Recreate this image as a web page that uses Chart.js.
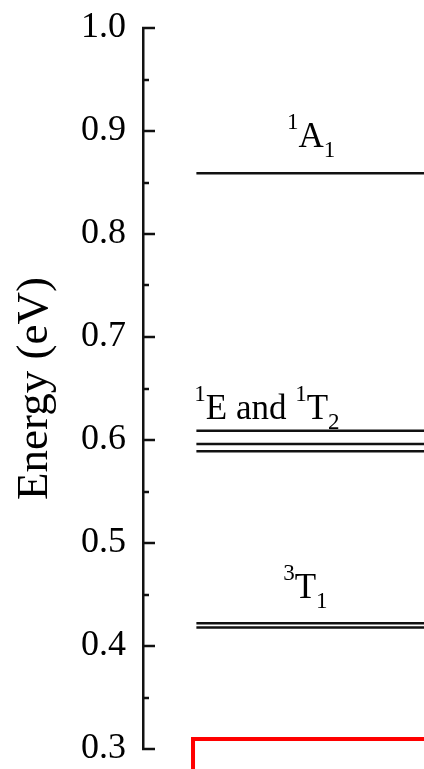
<!DOCTYPE html>
<html>
<head>
<meta charset="utf-8">
<script src="https://cdn.jsdelivr.net/npm/chart.js@4.4.1/dist/chart.umd.min.js"></script>
<style>
  html, body { margin: 0; padding: 0; background: #fff; }
  #wrap { width: 424px; height: 769px; position: relative; }
</style>
</head>
<body>
<div id="wrap"><canvas id="levelChart"></canvas></div>
<script>
// --- data ---
const levelEnergies = [0.859, 0.609, 0.596, 0.589, 0.422, 0.418];
const stateLabels = ['^1A_1', '^1E and ^1T_2', '^3T_1'];
const labelEnergies = [0.8845, 0.620, 0.4466];
const yMin = 0.3;
const yMax = 1.0;
const yStep = 0.05;

// x range of each level line (x axis is hidden, 0..1)
const levelStart = 0.19;
const levelEnd = 1.0;

Chart.defaults.font.family = "'Liberation Serif', 'Times New Roman', serif";
Chart.defaults.color = '#000';

const isMajor = v => Math.abs(v * 10 - Math.round(v * 10)) < 1e-6;

// ticks drawn on the inner side of the axis
const inwardTicks = {
  id: 'inwardTicks',
  afterDraw(chart) {
    const s = chart.scales.y;
    const ctx = chart.ctx;
    const x0 = chart.chartArea.left;
    ctx.save();
    ctx.strokeStyle = '#111';
    ctx.lineWidth = 2.5;
    s.ticks.forEach(t => {
      const py = Math.round(s.getPixelForValue(t.value));
      ctx.beginPath();
      ctx.moveTo(x0 - 1, py);
      ctx.lineTo(x0 + (isMajor(t.value) ? 12 : 6), py);
      ctx.stroke();
    });
    ctx.restore();
  }
};

// state labels with super/subscripts
function drawRich(ctx, str, cx, baseY, size, small) {
  const parts = [];
  for (let i = 0; i < str.length; i++) {
    const c = str[i];
    if ((c === '^' || c === '_') && i + 1 < str.length) {
      parts.push({ t: str[i + 1], k: c });
      i++;
    } else if (parts.length && parts[parts.length - 1].k === '') {
      parts[parts.length - 1].t += c;
    } else {
      parts.push({ t: c, k: '' });
    }
  }
  const fam = "'Liberation Serif', serif";
  let total = 0;
  parts.forEach(p => {
    ctx.font = (p.k ? small : size) + 'px ' + fam;
    p.w = ctx.measureText(p.t).width;
    total += p.w;
  });
  let x = cx - total / 2;
  parts.forEach(p => {
    ctx.font = (p.k ? small : size) + 'px ' + fam;
    let dy = 0;
    if (p.k === '^') dy = -18;
    if (p.k === '_') dy = 10;
    ctx.fillText(p.t, x, baseY + dy);
    x += p.w;
  });
}

const stateText = {
  id: 'stateText',
  afterDatasetsDraw(chart, args, opts) {
    const ctx = chart.ctx;
    const xs = chart.scales.x, ys = chart.scales.y;
    ctx.save();
    ctx.fillStyle = '#000';
    ctx.textBaseline = 'alphabetic';
    ctx.textAlign = 'left';
    stateLabels.forEach((lab, i) => {
      drawRich(ctx, lab, xs.getPixelForValue(opts.centers[i]), ys.getPixelForValue(labelEnergies[i]), 35, 23);
    });
    ctx.restore();
  }
};

// red frame at the bottom (runs past the picture edge)
const redFrame = {
  id: 'redFrame',
  afterDraw(chart, args, opts) {
    const ctx = chart.ctx;
    const x = chart.scales.x.getPixelForValue(opts.x);
    const y = chart.scales.y.getPixelForValue(opts.y);
    ctx.save();
    ctx.strokeStyle = '#ff0000';
    ctx.lineWidth = 4;
    ctx.strokeRect(x, y, 1000, 1000);
    ctx.restore();
  }
};

const datasets = levelEnergies.map(e => ({
  data: [{ x: levelStart, y: e }, { x: levelEnd, y: e }],
  borderColor: '#111',
  borderWidth: 2.5,
  pointRadius: 0,
  fill: false,
  clip: false
}));

new Chart(document.getElementById('levelChart'), {
  type: 'line',
  data: { datasets },
  options: {
    responsive: true,
    maintainAspectRatio: false,
    animation: false,
    layout: { padding: { top: 28, bottom: 20, left: 0, right: 0 } },
    plugins: {
      legend: { display: false },
      tooltip: { enabled: false },
      stateText: { centers: [0.598, 0.441, 0.578] },
      redFrame: { x: 0.178, y: 0.3097 }
    },
    scales: {
      x: { type: 'linear', min: 0, max: 1, display: false },
      y: {
        min: yMin,
        max: yMax,
        afterFit: s => { s.width = 143; s.paddingTop = 0; s.paddingBottom = 0; },
        ticks: {
          stepSize: yStep,
          padding: 17,
          autoSkip: false,
          font: { size: 36, lineHeight: 0.6 },
          color: '#000',
          callback: v => isMajor(v) ? v.toFixed(1) : ''
        },
        grid: { drawOnChartArea: false, drawTicks: false },
        border: { display: true, color: '#111', width: 2.5 },
        title: {
          display: true,
          text: 'Energy (eV)',
          color: '#000',
          font: { size: 45 },
          padding: { top: 8, bottom: 0 }
        }
      }
    }
  },
  plugins: [inwardTicks, stateText, redFrame]
});
</script>
</body>
</html>
